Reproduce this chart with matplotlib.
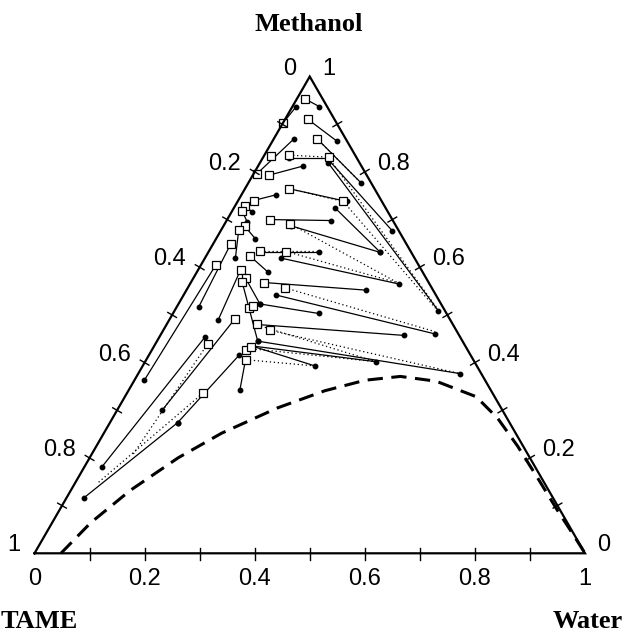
import numpy as np
import matplotlib.pyplot as plt

# compositions as (water, methanol) fractions, TAME = 1 - water - methanol

# experimental tie lines (solid, dots at the ends)
exp_left = [(0.015, 0.953), (0.007, 0.937), (0.042, 0.910), (0.078, 0.870), (0.037, 0.870),
            (0.048, 0.829), (0.122, 0.825), (0.124, 0.819), (0.029, 0.793), (0.079, 0.765),
            (0.028, 0.740), (0.183, 0.725), (0.078, 0.700), (0.122, 0.687), (0.093, 0.631),
            (0.139, 0.619), (0.079, 0.624), (0.133, 0.568), (0.167, 0.542), (0.148, 0.523),
            (0.164, 0.480), (0.183, 0.445), (0.177, 0.435), (0.177, 0.435),
            (0.018, 0.728), (0.018, 0.718), (0.039, 0.686), (0.032, 0.678), (0.032, 0.649),
            (0.027, 0.605), (0.077, 0.595), (0.095, 0.577), (0.092, 0.570), (0.118, 0.491),
            (0.083, 0.454), (0.164, 0.416), (0.123, 0.274), (0.180, 0.407)]
exp_right = [(0.049, 0.937), (0.000, 0.902), (0.118, 0.864), (0.206, 0.776), (0.006, 0.796),
             (0.119, 0.829), (0.311, 0.677), (0.479, 0.509), (0.081, 0.812), (0.198, 0.738),
             (0.063, 0.752), (0.313, 0.631), (0.190, 0.698), (0.313, 0.631), (0.202, 0.631),
             (0.379, 0.565), (0.129, 0.590), (0.326, 0.552), (0.498, 0.460), (0.265, 0.503),
             (0.443, 0.457), (0.584, 0.377), (0.419, 0.402), (0.313, 0.393),
             (0.038, 0.716), (0.039, 0.695), (0.071, 0.660), (0.055, 0.620), (0.040, 0.516),
             (0.018, 0.363), (0.089, 0.489), (0.148, 0.523), (0.183, 0.445), (0.082, 0.301),
             (0.032, 0.182), (0.123, 0.274), (0.032, 0.117), (0.202, 0.342)]

# calculated tie lines (dotted)
calc_left = [(0.078, 0.870), (0.045, 0.835), (0.125, 0.825), (0.192, 0.738), (0.079, 0.765),
             (0.119, 0.691), (0.092, 0.634), (0.141, 0.633), (0.176, 0.557), (0.165, 0.479),
             (0.193, 0.468), (0.181, 0.406), (0.180, 0.429), (0.095, 0.440), (0.138, 0.336)]
calc_right = [(0.199, 0.781), (0.119, 0.831), (0.472, 0.516), (0.474, 0.512), (0.192, 0.738),
              (0.377, 0.567), (0.201, 0.634), (0.377, 0.567), (0.495, 0.465), (0.419, 0.402),
              (0.584, 0.377), (0.313, 0.393), (0.419, 0.402), (0.075, 0.204), (0.042, 0.149)]

# calculated phase compositions (open squares)
calc_points = [(0.015, 0.953), (0.000, 0.902), (0.042, 0.910), (0.078, 0.870), (0.013, 0.833),
               (0.006, 0.796), (0.045, 0.835), (0.119, 0.831), (0.029, 0.793), (0.079, 0.765),
               (0.192, 0.738), (0.028, 0.740), (0.018, 0.728), (0.018, 0.718), (0.039, 0.686),
               (0.032, 0.678), (0.032, 0.649), (0.027, 0.605), (0.078, 0.700), (0.119, 0.691),
               (0.092, 0.634), (0.141, 0.633), (0.079, 0.624), (0.077, 0.595), (0.095, 0.577),
               (0.092, 0.570), (0.133, 0.568), (0.176, 0.557), (0.132, 0.514), (0.137, 0.519),
               (0.118, 0.491), (0.164, 0.480), (0.193, 0.468), (0.095, 0.440), (0.138, 0.336),
               (0.170, 0.427), (0.177, 0.432), (0.181, 0.406)]

# binodal curve (dashed)
binodal_w = [0.048, 0.070, 0.108, 0.161, 0.214, 0.289, 0.357, 0.419, 0.479, 0.549,
             0.638, 0.700, 0.765, 0.835, 0.905, 0.955, 1.0]
binodal_m = [0.0, 0.064, 0.132, 0.2005, 0.252, 0.305, 0.341, 0.363, 0.371, 0.361,
             0.3285, 0.283, 0.225, 0.158, 0.090, 0.043, 0.0]

ticks = [0.1 * i for i in range(11)]
tick_labels = ['0', '0.2', '0.4', '0.6', '0.8', '1']

H = np.sqrt(3) / 2


def tern(w, m):
    w = np.asarray(w, dtype=float)
    m = np.asarray(m, dtype=float)
    return w + m / 2, m * H


fig = plt.figure(figsize=(6.24, 6.35), dpi=100)
ax = fig.add_axes([0, 0, 1, 1])
scale = 550.5  # pixels per unit side
ax.set_xlim(-34.5 / scale, (624 - 34.5) / scale)
ax.set_ylim(-(635 - 553.3) / scale, 553.3 / scale)
ax.axis('off')

# triangle
ax.plot([0, 1, 0.5, 0], [0, 0, H, 0], color='black', lw=1.6, solid_joinstyle='miter', zorder=5)

# ticks every 0.1
d = 5 / scale
for v in ticks[1:-1]:
    ax.plot([v, v], [-7 / scale, 5 / scale], color='black', lw=1.0, zorder=5)
    xl, yl = tern(0, 1 - v)
    ax.plot([xl - 0.866 * d, xl + 0.866 * d], [yl + 0.5 * d, yl - 0.5 * d], color='black', lw=1.0, zorder=5)
    xr, yr = tern(1 - v, v)
    ax.plot([xr - 0.866 * d, xr + 0.866 * d], [yr - 0.5 * d, yr + 0.5 * d], color='black', lw=1.0, zorder=5)

# tick labels: bottom = water, left = TAME, right = methanol
lab_font = dict(family='Liberation Sans', fontsize=17, color='black')
for i, lab in enumerate(tick_labels):
    v = ticks[2 * i]
    ax.text(v, -26 / scale, lab, ha='center', va='center', **lab_font)
    xl, yl = tern(0, 1 - v)
    ax.text(xl - 14 / scale, yl + 8 / scale, lab, ha='right', va='center', **lab_font)
    xr, yr = tern(1 - v, v)
    ax.text(xr + 12 / scale, yr + 8 / scale, lab, ha='left', va='center', **lab_font)

# component names
name_font = dict(family='Liberation Serif', fontsize=19, fontweight='bold', color='black')
ax.text(0.4986, 0.948, 'Methanol', ha='center', va='baseline', **name_font)
ax.text(-33.5 / scale, -(633 - 553.3) / scale, 'TAME', ha='left', va='bottom', **name_font)
ax.text((623 - 34.5) / scale, -(633 - 553.3) / scale, 'Water', ha='right', va='bottom', **name_font)

# binodal
bx, by = tern(binodal_w, binodal_m)
ax.plot(bx, by, color='black', lw=2.2, linestyle=(0, (5, 2.8)), zorder=3)

# calculated tie lines
for (w1, m1), (w2, m2) in zip(calc_left, calc_right):
    x, y = tern([w1, w2], [m1, m2])
    ax.plot(x, y, color='black', lw=0.9, linestyle=(0, (1, 2.2)), zorder=2)

# experimental tie lines
for (w1, m1), (w2, m2) in zip(exp_left, exp_right):
    x, y = tern([w1, w2], [m1, m2])
    ax.plot(x, y, color='black', lw=0.9, marker='o', markersize=3.2, zorder=3)

# calculated compositions
cw, cm = zip(*calc_points)
sx, sy = tern(cw, cm)
ax.plot(sx, sy, linestyle='none', marker='s', markersize=6, mfc='white', mec='black', mew=0.9, zorder=4)

fig.savefig('out.png', dpi=100)
